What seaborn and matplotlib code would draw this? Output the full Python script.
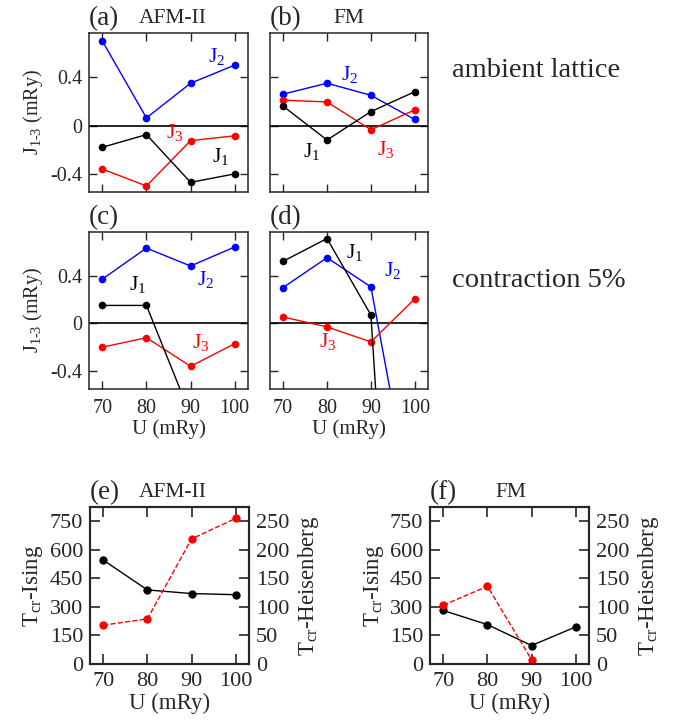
import numpy as np
import matplotlib
matplotlib.use('Agg')
import matplotlib.pyplot as plt
import seaborn as sns

# U values (mRy)
U = [70, 80, 90, 100]

# exchange parameters (mRy), ambient lattice
a_J1 = [-0.18, -0.075, -0.47, -0.40]
a_J2 = [0.70, 0.063, 0.35, 0.50]
a_J3 = [-0.36, -0.50, -0.125, -0.085]
b_J1 = [0.16, -0.12, 0.115, 0.28]
b_J2 = [0.26, 0.35, 0.25, 0.05]
b_J3 = [0.21, 0.195, -0.035, 0.13]

# contraction 5%
c_J1 = [0.15, 0.15, -0.77, -0.90]
c_J2 = [0.37, 0.63, 0.48, 0.64]
c_J3 = [-0.20, -0.12, -0.36, -0.17]
d_J1 = [0.52, 0.71, 0.07, -5.7]
d_J2 = [0.30, 0.55, 0.305, -1.67]
d_J3 = [0.053, -0.03, -0.155, 0.205]

# critical temperatures (K)
e_ising = [546, 389, 370, 364]
e_heis = [68, 79, 219, 255]
f_ising = [281, 207, 97, 195]
f_heis = [103, 136, 7.5]

sns.set_style('ticks')
plt.rcParams['font.family'] = ['Liberation Serif', 'DejaVu Serif']
plt.rcParams['mathtext.fontset'] = 'custom'
plt.rcParams['mathtext.rm'] = 'Liberation Serif'
plt.rcParams['mathtext.it'] = 'Liberation Serif:italic'
plt.rcParams['mathtext.bf'] = 'Liberation Serif:bold'
plt.rcParams['axes.unicode_minus'] = False

BLUE = '#0000ff'
RED = '#ff0000'

fig = plt.figure(figsize=(6.78, 7.2), dpi=100)

ax_a = fig.add_axes([0.1313, 0.7333, 0.2345, 0.2208])
ax_b = fig.add_axes([0.3982, 0.7333, 0.2330, 0.2208])
ax_c = fig.add_axes([0.1313, 0.4597, 0.2345, 0.2181])
ax_d = fig.add_axes([0.3982, 0.4597, 0.2330, 0.2181])
ax_e = fig.add_axes([0.1327, 0.0778, 0.2345, 0.2181])
ax_f = fig.add_axes([0.6342, 0.0778, 0.2345, 0.2181])


def j_panel(ax, j1, j2, j3, label, title, title_x, texts, ylab, xlab):
    ax.axhline(0, color='black', lw=1.2, zorder=1)
    for vals, col in [(j2, BLUE), (j3, RED), (j1, 'black')]:
        sns.lineplot(x=U, y=vals, color=col, marker='o', markersize=5.5,
                     markeredgewidth=0, linewidth=1, ax=ax)
    ax.set_xlim(67, 103)
    ax.set_ylim(-0.55, 0.765)
    ax.set_xticks(U)
    ax.set_yticks([-0.4, 0, 0.4])
    ax.set_yticklabels(['-0.4', '0', '0.4'])
    ax.tick_params(direction='in', top=True, right=True, length=6, width=1,
                   labelsize=14.5)
    ax.tick_params(axis='y', pad=5)
    ax.tick_params(axis='x', pad=7)
    for s in ax.spines.values():
        s.set_linewidth(1.1)
    if xlab:
        ax.set_xlabel('U (mRy)', fontsize=15, labelpad=1)
    else:
        ax.set_xticklabels([])
    if ylab:
        ax.set_ylabel(r'J$_{1\text{-}3}$ (mRy)', fontsize=14.5, labelpad=4)
    else:
        ax.set_yticklabels([])
    ax.text(0, 1.012, label, transform=ax.transAxes, fontsize=19.5,
            ha='left', va='bottom')
    if title:
        ax.text(title_x, 1.03, title, transform=ax.transAxes, fontsize=15.5,
                ha='left', va='bottom')
    for (tx, ty, s, col) in texts:
        ax.text(tx, ty, s, transform=ax.transAxes, color=col, fontsize=15.5,
                ha='left', va='baseline')


j_panel(ax_a, a_J1, a_J2, a_J3, '(a)', 'AFM-II', 0.31,
        [(0.748, 0.815, r'J$_2$', BLUE), (0.484, 0.34, r'J$_3$', RED),
         (0.774, 0.189, r'J$_1$', 'black')], True, False)
j_panel(ax_b, b_J1, b_J2, b_J3, '(b)', 'FM', 0.40,
        [(0.451, 0.704, r'J$_2$', BLUE), (0.21, 0.223, r'J$_1$', 'black'),
         (0.675, 0.233, r'J$_3$', RED)], False, False)
j_panel(ax_c, c_J1, c_J2, c_J3, '(c)', None, 0,
        [(0.254, 0.631, r'J$_1$', 'black'), (0.677, 0.662, r'J$_2$', BLUE),
         (0.65, 0.259, r'J$_3$', RED)], True, True)
j_panel(ax_d, d_J1, d_J2, d_J3, '(d)', None, 0,
        [(0.479, 0.833, r'J$_1$', 'black'), (0.723, 0.722, r'J$_2$', BLUE),
         (0.31, 0.269, r'J$_3$', RED)], False, True)

fig.text(0.667, 0.893, 'ambient lattice', fontsize=20.5, ha='left', va='baseline')
fig.text(0.667, 0.602, 'contraction 5%', fontsize=20.5, ha='left', va='baseline')


def t_panel(ax, ising, heis, label, title, title_x):
    ax2 = ax.twinx()
    sns.lineplot(x=U, y=ising, color='black', marker='o', markersize=6,
                 markeredgewidth=0, linewidth=1, ax=ax)
    sns.lineplot(x=U[:len(heis)], y=heis, color=RED, marker='o', markersize=6,
                 markeredgewidth=0, linewidth=1, linestyle='--', ax=ax2)
    ax.set_xlim(67, 103)
    ax.set_ylim(0, 825)
    ax2.set_ylim(0, 275)
    ax.set_xticks(U)
    ax.set_yticks([0, 150, 300, 450, 600, 750])
    ax2.set_yticks([0, 50, 100, 150, 200, 250])
    ax.tick_params(direction='in', top=True, length=7, width=1.2, labelsize=16)
    ax.tick_params(axis='y', pad=5)
    ax.tick_params(axis='x', pad=6)
    ax2.tick_params(direction='in', length=7, width=1.2, labelsize=16, pad=5)
    for s in list(ax.spines.values()) + list(ax2.spines.values()):
        s.set_linewidth(1.5)
    ax.set_xlabel('U (mRy)', fontsize=16.5, labelpad=1)
    ax.set_ylabel(r'T$_{\mathrm{cr}}$-Ising', fontsize=16.5, labelpad=3)
    ax2.set_ylabel(r'T$_{\mathrm{cr}}$-Heisenberg', fontsize=16.5, labelpad=5)
    ax.text(0, 1.012, label, transform=ax.transAxes, fontsize=19.5,
            ha='left', va='bottom')
    ax.text(title_x, 1.03, title, transform=ax.transAxes, fontsize=15.5,
            ha='left', va='bottom')


t_panel(ax_e, e_ising, e_heis, '(e)', 'AFM-II', 0.31)
t_panel(ax_f, f_ising, f_heis, '(f)', 'FM', 0.41)

fig.savefig('out.png', dpi=100)
